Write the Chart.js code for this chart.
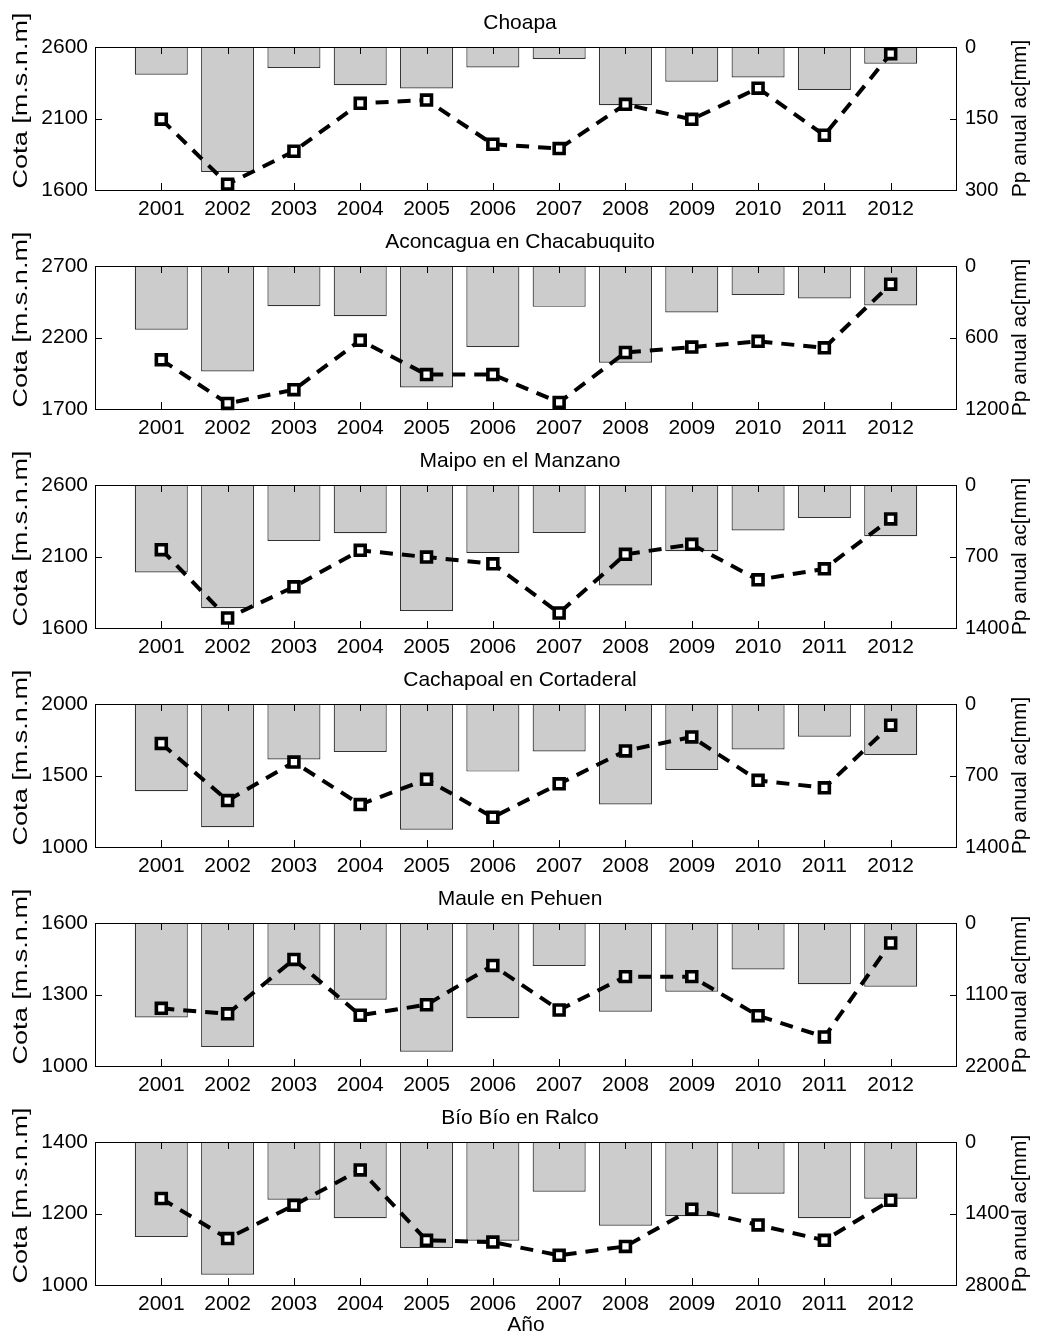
<!DOCTYPE html>
<html>
<head>
<meta charset="utf-8">
<title>Cota y precipitación anual por cuenca</title>
<script src="https://cdn.jsdelivr.net/npm/chart.js@4.4.1/dist/chart.umd.min.js"></script>
<style>
  html, body { margin: 0; padding: 0; background: #fff; }
  #panels { position: relative; width: 1040px; height: 1338px; overflow: hidden; }
  .panel { position: absolute; left: 0; width: 1040px; }
</style>
</head>
<body>
<div id="panels"></div>
<script>
const years = [2001, 2002, 2003, 2004, 2005, 2006, 2007, 2008, 2009, 2010, 2011, 2012];

const cuencas = [
  'Choapa',
  'Aconcagua en Chacabuquito',
  'Maipo en el Manzano',
  'Cachapoal en Cortaderal',
  'Maule en Pehuen',
  'Bío Bío en Ralco'
];

// Cota por año [m.s.n.m] (eje izquierdo)
const cotaChoapa = [2095, 1641, 1871, 2206, 2229, 1920, 1890, 2199, 2094, 2312, 1983, 2553];
const cotaAconcagua = [2044, 1739, 1835, 2180, 1941, 1941, 1746, 2095, 2133, 2173, 2128, 2573];
const cotaMaipo = [2148, 1670, 1888, 2143, 2096, 2049, 1705, 2115, 2185, 1937, 2014, 2363];
const cotaCachapoal = [1724, 1325, 1594, 1297, 1473, 1208, 1442, 1672, 1770, 1466, 1414, 1852];
const cotaMaule = [1242, 1219, 1447, 1213, 1257, 1422, 1235, 1375, 1375, 1211, 1122, 1516];
const cotaBioBio = [1242, 1130, 1223, 1322, 1125, 1120, 1083, 1108, 1212, 1168, 1125, 1237];

// Precipitación anual acumulada [mm] (eje derecho, invertido)
const ppChoapa = [58, 262, 44, 80, 87, 43, 25, 122, 73, 64, 90, 35];
const ppAconcagua = [534, 885, 337, 421, 1020, 680, 343, 812, 390, 244, 272, 331];
const ppMaipo = [856, 1207, 548, 472, 1233, 666, 469, 984, 649, 446, 322, 502];
const ppCachapoal = [853, 1207, 544, 469, 1230, 662, 465, 984, 646, 446, 321, 499];
const ppMaule = [1453, 1907, 959, 1180, 1979, 1464, 660, 1366, 1056, 716, 943, 979];
const ppBioBio = [1860, 2598, 1129, 1494, 2075, 1932, 973, 1639, 1455, 1012, 1494, 1110];

const cotaTicks = [
  [1600, 2100, 2600],
  [1700, 2200, 2700],
  [1600, 2100, 2600],
  [1000, 1500, 2000],
  [1000, 1300, 1600],
  [1000, 1200, 1400]
];
const ppTicks = [
  [0, 150, 300],
  [0, 600, 1200],
  [0, 700, 1400],
  [0, 700, 1400],
  [0, 1100, 2200],
  [0, 1400, 2800]
];

const cotaSeries = [cotaChoapa, cotaAconcagua, cotaMaipo, cotaCachapoal, cotaMaule, cotaBioBio];
const ppSeries = [ppChoapa, ppAconcagua, ppMaipo, ppCachapoal, ppMaule, ppBioBio];

// layout (px)
const PAGE_H = 1338;
const PANEL_STEP = 219;
const LEFT_AXIS_W = 95;
const RIGHT_AXIS_W = 83;
const TICK_LEN = 7;
const FONT_SIZE = 21;
const FONT_FAMILY = '"Liberation Sans", Arial, Helvetica, sans-serif';

// vertical axis titles: x centre, shift from the plot's middle, font size,
// and the length to stretch the text to (0 = natural width)
const sideLabels = [
  { text: 'Cota [m.s.n.m]', x: 21, dy: -18, size: 20, span: 176 },
  { text: 'Pp anual ac[mm]', x: 1020, dy: 0, size: 21, span: 0 }
];

Chart.defaults.font.family = FONT_FAMILY;
Chart.defaults.font.size = FONT_SIZE;
Chart.defaults.color = '#000';

// box around the plot area + inward tick marks, drawn between the bars and the line
const framePlugin = {
  id: 'frame',
  afterDatasetDraw(chart, args) {
    if (args.meta.type !== 'bar') return;
    const { ctx, chartArea: a, scales } = chart;
    ctx.save();
    ctx.strokeStyle = '#000';
    ctx.lineWidth = 1;
    ctx.beginPath();
    scales.x.ticks.forEach(t => {
      const px = Math.round(scales.x.getPixelForValue(t.value)) + 0.5;
      ctx.moveTo(px, a.bottom);
      ctx.lineTo(px, a.bottom - TICK_LEN);
      ctx.moveTo(px, a.top);
      ctx.lineTo(px, a.top + TICK_LEN);
    });
    scales.y.ticks.forEach(t => {
      const py = Math.round(scales.y.getPixelForValue(t.value)) + 0.5;
      ctx.moveTo(a.left, py);
      ctx.lineTo(a.left + TICK_LEN, py);
    });
    scales.y1.ticks.forEach(t => {
      const py = Math.round(scales.y1.getPixelForValue(t.value)) + 0.5;
      ctx.moveTo(a.right, py);
      ctx.lineTo(a.right - TICK_LEN, py);
    });
    ctx.stroke();
    ctx.strokeRect(Math.round(a.left) + 0.5, Math.round(a.top) + 0.5,
      Math.round(a.right - a.left) - 1, Math.round(a.bottom - a.top));
    ctx.restore();
  }
};

// vertical axis titles, both reading bottom to top
const sideLabelPlugin = {
  id: 'sideLabel',
  afterDraw(chart) {
    const { ctx, chartArea: a } = chart;
    const mid = (a.top + a.bottom) / 2;
    ctx.save();
    ctx.fillStyle = '#000';
    ctx.textAlign = 'center';
    ctx.textBaseline = 'middle';
    sideLabels.forEach(l => {
      ctx.save();
      ctx.font = l.size + 'px ' + FONT_FAMILY;
      const w = ctx.measureText(l.text).width;
      ctx.translate(l.x, mid + l.dy);
      ctx.rotate(-Math.PI / 2);
      if (l.span > 0) ctx.scale(l.span / w, 1);
      ctx.fillText(l.text, 0, 0);
      ctx.restore();
    });
    ctx.restore();
  }
};

const container = document.getElementById('panels');

function buildPanel(idx) {
  const isLast = idx === cuencas.length - 1;
  const top = idx * PANEL_STEP;
  const height = isLast ? PAGE_H - top : PANEL_STEP;

  const wrap = document.createElement('div');
  wrap.className = 'panel';
  wrap.style.top = top + 'px';
  wrap.style.height = height + 'px';
  const canvas = document.createElement('canvas');
  wrap.appendChild(canvas);
  container.appendChild(wrap);

  const cota = cotaSeries[idx].map((v, i) => ({ x: i + 1, y: v }));
  const pp = ppSeries[idx].map((v, i) => ({ x: i + 1, y: v }));
  const cTicks = cotaTicks[idx];
  const pTicks = ppTicks[idx];

  return new Chart(canvas, {
    type: 'bar',
    data: {
      datasets: [
        {
          type: 'line',
          label: 'Cota',
          data: cota,
          yAxisID: 'y',
          order: 0,
          borderColor: '#000',
          borderWidth: 4,
          borderDash: [13, 9],
          tension: 0,
          fill: false,
          clip: false,
          pointStyle: 'rect',
          pointRadius: 7,
          pointBorderWidth: 3.6,
          pointBackgroundColor: '#fff',
          pointBorderColor: '#000'
        },
        {
          type: 'bar',
          label: 'Pp anual',
          data: pp,
          yAxisID: 'y1',
          order: 1,
          backgroundColor: '#cccccc',
          borderColor: '#333333',
          borderWidth: 1.2,
          categoryPercentage: 1,
          barPercentage: 0.8
        }
      ]
    },
    options: {
      responsive: true,
      maintainAspectRatio: false,
      animation: false,
      events: [],
      layout: { padding: 0 },
      plugins: {
        legend: { display: false },
        tooltip: { enabled: false },
        title: {
          display: true,
          text: cuencas[idx],
          color: '#000',
          font: { size: FONT_SIZE, weight: 'normal', lineHeight: 1.2 },
          padding: { top: 11, bottom: 10.8 }
        }
      },
      scales: {
        x: {
          type: 'linear',
          offset: false,
          min: 0,
          max: 13,
          afterBuildTicks: s => { s.ticks = years.map((y, i) => ({ value: i + 1 })); },
          afterFit: s => { s.height = isLast ? height - 190 : 29; },
          grid: { display: false, drawTicks: false },
          border: { display: false },
          ticks: {
            callback: v => String(years[v - 1]),
            padding: 7,
            maxRotation: 0,
            autoSkip: false
          },
          title: {
            display: isLast,
            text: 'Año',
            font: { size: FONT_SIZE, lineHeight: 1 },
            padding: { top: 0, bottom: 2 }
          }
        },
        y: {
          position: 'left',
          min: cTicks[0],
          max: cTicks[cTicks.length - 1],
          afterBuildTicks: s => { s.ticks = cTicks.map(v => ({ value: v })); },
          afterFit: s => { s.width = LEFT_AXIS_W; },
          grid: { display: false, drawTicks: false },
          border: { display: false },
          ticks: { padding: 7, callback: v => String(v) }
        },
        y1: {
          position: 'right',
          reverse: true,
          min: pTicks[0],
          max: pTicks[pTicks.length - 1],
          afterBuildTicks: s => { s.ticks = pTicks.map(v => ({ value: v })); },
          afterFit: s => { s.width = RIGHT_AXIS_W; },
          grid: { display: false, drawTicks: false },
          border: { display: false },
          ticks: { padding: 8, font: { size: 20 }, callback: v => String(v) }
        }
      }
    },
    plugins: [framePlugin, sideLabelPlugin]
  });
}

cuencas.forEach((name, i) => buildPanel(i));
</script>
</body>
</html>
